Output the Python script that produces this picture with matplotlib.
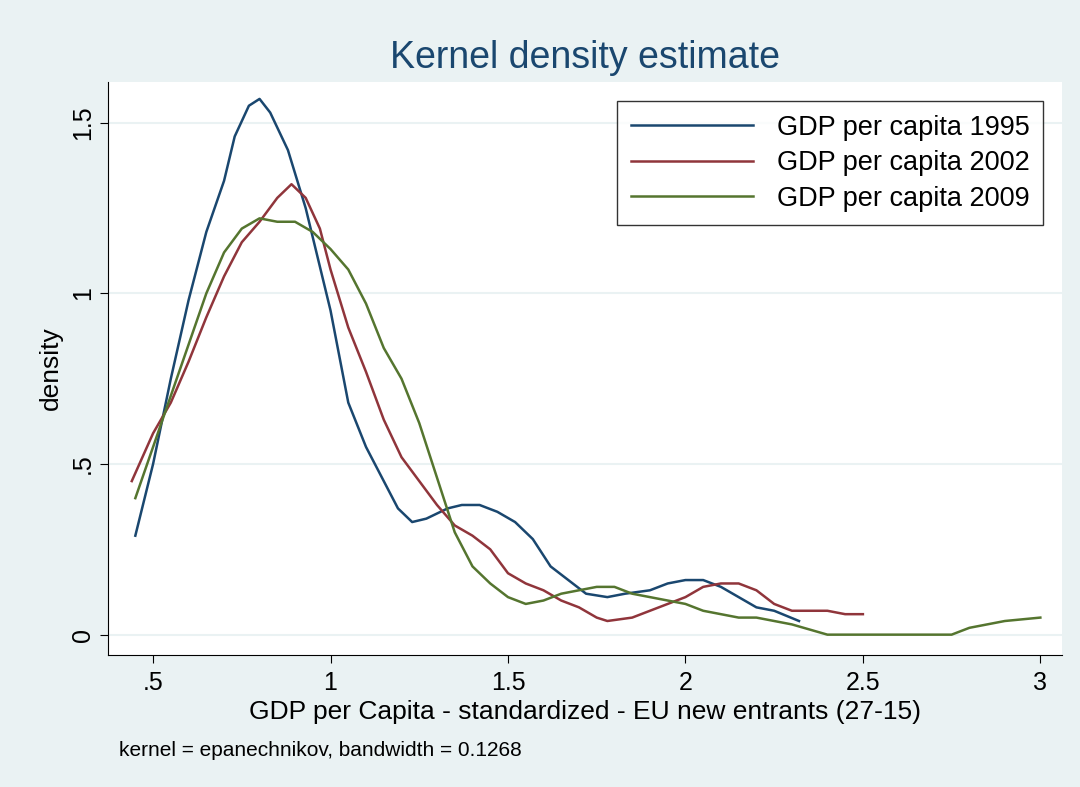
import numpy as np
import matplotlib.pyplot as plt

plt.rcParams['font.family'] = ['Liberation Sans', 'DejaVu Sans']

x95 = [0.45,0.5,0.55,0.6,0.65,0.7,0.73,0.77,0.8,0.83,0.88,0.93,1.0,1.05,1.1,1.15,1.19,1.23,1.27,1.33,1.37,1.42,1.47,1.52,1.57,1.62,1.67,1.72,1.78,1.83,1.9,1.95,2.0,2.05,2.1,2.15,2.2,2.25,2.32]
y95 = [0.29,0.5,0.75,0.98,1.18,1.33,1.46,1.55,1.57,1.53,1.42,1.25,0.95,0.68,0.55,0.45,0.37,0.33,0.34,0.37,0.38,0.38,0.36,0.33,0.28,0.2,0.16,0.12,0.11,0.12,0.13,0.15,0.16,0.16,0.14,0.11,0.08,0.07,0.04]
x02 = [0.44,0.5,0.55,0.6,0.65,0.7,0.75,0.8,0.85,0.89,0.93,0.97,1.0,1.05,1.1,1.15,1.2,1.25,1.3,1.35,1.4,1.45,1.5,1.55,1.6,1.65,1.7,1.75,1.78,1.85,1.9,1.95,2.0,2.05,2.1,2.15,2.2,2.25,2.3,2.35,2.4,2.45,2.5]
y02 = [0.45,0.59,0.68,0.8,0.93,1.05,1.15,1.21,1.28,1.32,1.28,1.19,1.07,0.9,0.77,0.63,0.52,0.45,0.38,0.32,0.29,0.25,0.18,0.15,0.13,0.1,0.08,0.05,0.04,0.05,0.07,0.09,0.11,0.14,0.15,0.15,0.13,0.09,0.07,0.07,0.07,0.06,0.06]
x09 = [0.45,0.5,0.55,0.6,0.65,0.7,0.75,0.8,0.85,0.9,0.95,1.0,1.05,1.1,1.15,1.2,1.25,1.3,1.35,1.4,1.45,1.5,1.55,1.6,1.65,1.7,1.75,1.8,1.85,1.9,1.95,2.0,2.05,2.1,2.15,2.2,2.3,2.4,2.5,2.6,2.75,2.8,2.9,3.0]
y09 = [0.40,0.55,0.70,0.85,1.0,1.12,1.19,1.22,1.21,1.21,1.18,1.13,1.07,0.97,0.84,0.75,0.62,0.46,0.3,0.2,0.15,0.11,0.09,0.1,0.12,0.13,0.14,0.14,0.12,0.11,0.1,0.09,0.07,0.06,0.05,0.05,0.03,0.0,0.0,0.0,0.0,0.02,0.04,0.05]

xticks = [0.5, 1, 1.5, 2, 2.5, 3]
xlabels = ['.5', '1', '1.5', '2', '2.5', '3']
yticks = [0, 0.5, 1, 1.5]
ylabels = ['0', '.5', '1', '1.5']

fig = plt.figure(figsize=(10.8, 7.87), dpi=100, facecolor='#eaf2f3')
ax = fig.add_axes([0.1, 0.168, 0.883, 0.728])
ax.set_facecolor('white')
ax.plot(x95, y95, color='#1a476f', lw=1.8, label='GDP per capita 1995')
ax.plot(x02, y02, color='#90353b', lw=1.8, label='GDP per capita 2002')
ax.plot(x09, y09, color='#55752f', lw=1.8, label='GDP per capita 2009')
ax.set_xlim(0.373, 3.06)
ax.set_ylim(-0.059, 1.62)
ax.set_xticks(xticks, xlabels, fontsize=18)
ax.set_yticks(yticks, ylabels, fontsize=18, rotation=90, va='center')
ax.grid(axis='y', color='#eaf2f3', lw=1.5)
ax.set_axisbelow(True)
for s in ['top', 'right']:
    ax.spines[s].set_visible(False)
ax.tick_params(length=6)
ax.tick_params(axis='x', pad=6)
ax.set_xlabel('GDP per Capita - standardized - EU new entrants (27-15)', fontsize=19, labelpad=3)
ax.set_ylabel('density', fontsize=19, labelpad=6)
ax.set_title('Kernel density estimate', fontsize=27, color='#1a476f', pad=10)
leg = ax.legend(loc='upper right', fontsize=19.5, frameon=True, fancybox=False,
                edgecolor='black', handlelength=4.5, borderpad=0.5, labelspacing=0.35,
                handletextpad=0.9, bbox_to_anchor=(0.995, 0.99))
leg.get_frame().set_linewidth(1)
fig.text(0.11, 0.04, 'kernel = epanechnikov, bandwidth = 0.1268', fontsize=15)
fig.savefig('out.png', facecolor=fig.get_facecolor())
